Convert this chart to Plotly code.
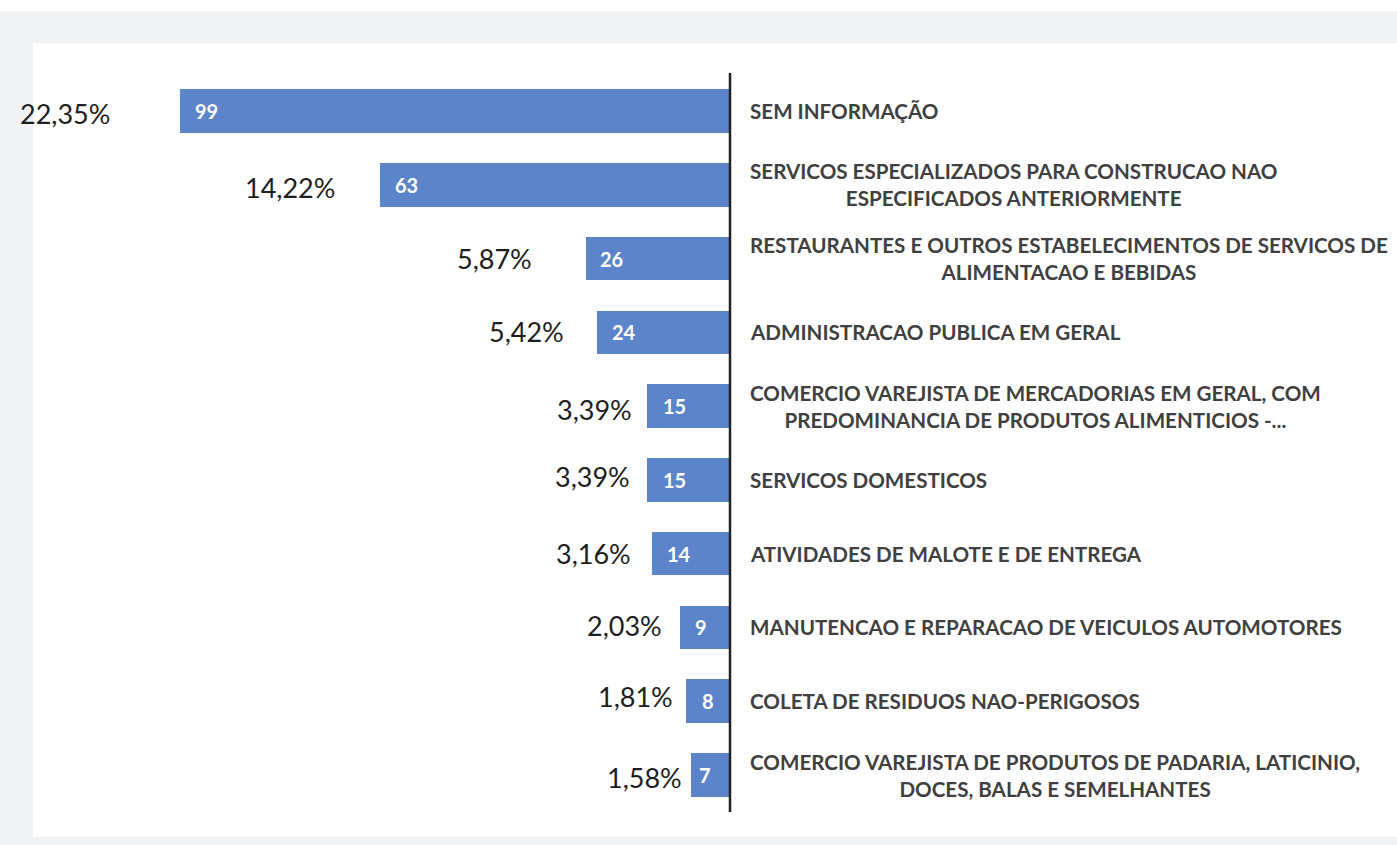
import plotly.graph_objects as go

categories = [
    "SEM INFORMAÇÃO",
    "SERVICOS ESPECIALIZADOS PARA CONSTRUCAO NAO<br>ESPECIFICADOS ANTERIORMENTE",
    "RESTAURANTES E OUTROS ESTABELECIMENTOS DE SERVICOS DE<br>ALIMENTACAO E BEBIDAS",
    "ADMINISTRACAO PUBLICA EM GERAL",
    "COMERCIO VAREJISTA DE MERCADORIAS EM GERAL, COM<br>PREDOMINANCIA DE PRODUTOS ALIMENTICIOS -...",
    "SERVICOS DOMESTICOS",
    "ATIVIDADES DE MALOTE E DE ENTREGA",
    "MANUTENCAO E REPARACAO DE VEICULOS AUTOMOTORES",
    "COLETA DE RESIDUOS NAO-PERIGOSOS",
    "COMERCIO VAREJISTA DE PRODUTOS DE PADARIA, LATICINIO,<br>DOCES, BALAS E SEMELHANTES",
]
counts = [99, 63, 26, 24, 15, 15, 14, 9, 8, 7]
percent_labels = ["22,35%", "14,22%", "5,87%", "5,42%", "3,39%", "3,39%",
                  "3,16%", "2,03%", "1,81%", "1,58%"]

# label placement tweaks (pixels): gap between percent label and bar end,
# and downward offset of percent label from the bar centre
pct_gaps = [68, 43, 52, 31, 13, 15, 19, 16, 11, 7]
pct_down = [2, 3, 0, -1, 3, -3, 0, -2, -5, 2]
count_pads = [15, 15, 14, 15, 16, 16, 15, 15, 16, 8]

W, H = 1397, 845
px_per_unit = 5.556
zero_px = 730
row0_px, row_step = 111, 73.78

x_range = [-zero_px / px_per_unit, (W - zero_px) / px_per_unit]
y_range = [(H - row0_px) / row_step, -row0_px / row_step]

idx = list(range(len(counts)))
neg = [-c for c in counts]

fig = go.Figure()
fig.add_trace(go.Bar(
    x=neg, y=idx, orientation="h", width=0.59,
    marker=dict(color="#5B84CB", line=dict(width=0)),
    hoverinfo="skip", showlegend=False,
))

annotations = []
for i, (c, p, cat) in enumerate(zip(counts, percent_labels, categories)):
    annotations.append(dict(
        x=-c, y=i, xref="x", yref="y", text=p, showarrow=False,
        xanchor="right", yanchor="middle", xshift=-pct_gaps[i], yshift=-pct_down[i],
        font=dict(family="Lato", size=27, color="#1E1E1E"),
    ))
    annotations.append(dict(
        x=-c, y=i, xref="x", yref="y", text=f"<b>{c}</b>", showarrow=False,
        xanchor="left", yanchor="middle", xshift=count_pads[i] - 2,
        font=dict(family="Lato", size=20, color="#FFFFFF"),
    ))
    annotations.append(dict(
        x=0, y=i, xref="x", yref="y", text=f"<b>{cat}</b>", showarrow=False,
        xanchor="left", yanchor="middle", xshift=18, align="center",
        font=dict(family="Lato", size=20.6, color="#404040"),
    ))

shapes = [
    dict(type="rect", xref="paper", yref="paper", x0=0, x1=1,
         y0=1 - 11 / H, y1=1, fillcolor="#FFFFFF", line=dict(width=0), layer="below"),
    dict(type="rect", xref="paper", yref="paper", x0=33 / W, x1=1,
         y0=1 - 837 / H, y1=1 - 43 / H, fillcolor="#FFFFFF", line=dict(width=0), layer="below"),
    dict(type="line", xref="x", yref="y", x0=0, x1=0,
         y0=(73 - row0_px) / row_step, y1=(812 - row0_px) / row_step,
         line=dict(color="#222222", width=2.5), layer="above"),
]

fig.update_layout(
    width=W, height=H,
    margin=dict(l=0, r=0, t=0, b=0),
    paper_bgcolor="#F0F1F3", plot_bgcolor="rgba(0,0,0,0)",
    xaxis=dict(range=x_range, visible=False, fixedrange=True),
    yaxis=dict(range=y_range, visible=False, fixedrange=True),
    annotations=annotations, shapes=shapes,
    bargap=0,
)

fig.write_html("out.html", config={"displayModeBar": False},
               post_script="document.body.style.margin='0px';")
